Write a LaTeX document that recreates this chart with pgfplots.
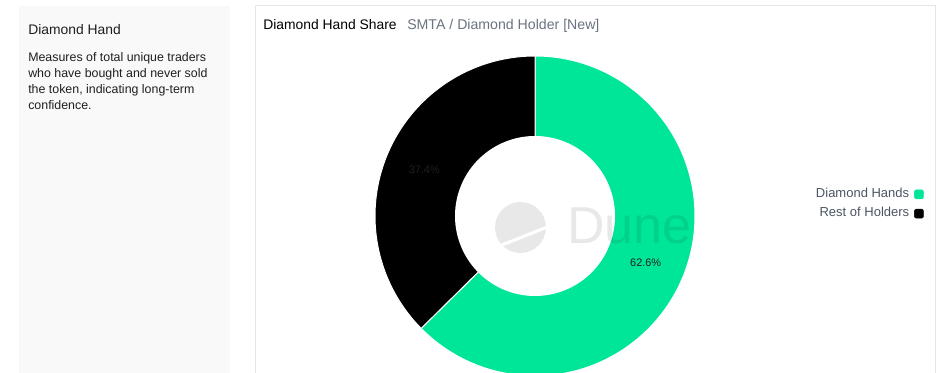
\documentclass[border=0pt]{standalone}
\usepackage{pgfplots}
\pgfplotsset{compat=1.18}
\usepackage{pgfplotstable}
\usepackage{fontspec}
\setmainfont{Liberation Sans}
\definecolor{dgreen}{HTML}{00E699}
\definecolor{panelgray}{HTML}{F9F9F9}
\definecolor{bordergray}{HTML}{E6E6E6}
\definecolor{subgray}{HTML}{6B7280}
\definecolor{leggray}{HTML}{4B5563}
\definecolor{txtdark}{HTML}{1F1F1F}
\pgfplotstableread{
label share
DiamondHands 62.6
RestOfHolders 37.4
}\sharetable
\pgfplotstablegetelem{0}{share}\of\sharetable\let\shareA\pgfplotsretval
\pgfplotstablegetelem{1}{share}\of\sharetable\let\shareB\pgfplotsretval
\pgfmathsetmacro\angA{90-3.6*\shareA}%
\pgfmathsetmacro\angB{90+3.6*\shareB}%
\pgfmathsetmacro\midA{(90+\angA)/2}%
\pgfmathsetmacro\midB{(90+\angB)/2}%
\begin{document}
\begin{tikzpicture}[x=0.75pt,y=0.75pt]
\path[use as bounding box] (0,0) rectangle (946,373);
\clip (0,0) rectangle (946,373);
\fill[white] (0,0) rectangle (946,373);
% left panel
\fill[panelgray] (19,-10) rectangle (230,367);
\node[anchor=base west, inner sep=0, text=txtdark, font=\fontsize{10.4pt}{12pt}\selectfont] at (28,{373-34.3}) {Diamond Hand};
\begin{scope}[every node/.style={anchor=base west, inner sep=0, text=txtdark, font=\fontsize{9.3pt}{12pt}\selectfont}]
\node at (28,{373-61.2}) {Measures of total unique traders};
\node at (28,{373-77.4}) {who have bought and never sold};
\node at (28,{373-93.6}) {the token, indicating long-term};
\node at (28,{373-109.6}) {confidence.};
\end{scope}
% right panel
\draw[bordergray, line width=0.75pt] (255,-10) rectangle (935,367);
\node[anchor=base west, inner sep=0, text=black, font=\fontsize{10.4pt}{12pt}\selectfont] at (263,{373-30}) {Diamond Hand Share};
\node[anchor=base west, inner sep=0, text=subgray, font=\fontsize{10.6pt}{12pt}\selectfont] at (407,{373-30}) {SMTA / Diamond Holder [New]};
\begin{axis}[
  at={(401.25pt,117.75pt)}, anchor=center,
  width=240pt, height=240pt, scale only axis,
  hide axis, clip=false,
  xmin=-1, xmax=1, ymin=-1, ymax=1,
  legend style={at={(axis description cs:1.7156,0.5375)}, anchor=east,
    draw=none, fill=none, inner sep=0pt, row sep=5.5pt, column sep=3.75pt,
    font=\fontsize{9.75pt}{11pt}\selectfont, text=leggray,
    nodes={inner sep=0pt, text height=7pt, text depth=2pt}},
  legend cell align=right,
  legend plot pos=right,
]
\addplot[forget plot, fill=dgreen, draw=white, line width=0.75pt, domain=\angA:90, samples=180, variable=\t]
  ({cos(\t)},{sin(\t)}) -- (axis cs:0,0) -- cycle;
\addplot[forget plot, fill=black, draw=white, line width=0.75pt, domain=90:\angB, samples=120, variable=\t]
  ({cos(\t)},{sin(\t)}) -- (axis cs:0,0) -- cycle;
\addplot[forget plot, fill=white, draw=none, domain=0:360, samples=180, variable=\t]
  ({0.5*cos(\t)},{0.5*sin(\t)}) -- cycle;
\node[text=txtdark, font=\fontsize{8.2pt}{10pt}\selectfont] at (axis cs:{0.75*cos(\midA)},{0.75*sin(\midA)}) {\shareA\%};
\node[text=txtdark, font=\fontsize{8.2pt}{10pt}\selectfont] at (axis cs:{0.75*cos(\midB)},{0.75*sin(\midB)}) {\shareB\%};
\addlegendimage{legend image code/.code={\fill[dgreen,rounded corners=1.5pt] (0pt,-3.375pt) rectangle (6.75pt,3.375pt);}}
\addlegendentry{Diamond Hands}
\addlegendimage{legend image code/.code={\fill[black,rounded corners=1.5pt] (0pt,-3.375pt) rectangle (6.75pt,3.375pt);}}
\addlegendentry{Rest of Holders}
\end{axis}
% Dune watermark
\begin{scope}
\clip (520.5,{373-227.5}) circle (25.5);
\fill[black, opacity=0.09] (520.5,{373-227.5}) circle (25.5);
\draw[white, line width=2.3pt] (488,{373-250.5}) -- (556,{373-223.6});
\end{scope}
\node[anchor=base west, inner sep=0, text=black, text opacity=0.09, font=\fontsize{39pt}{41pt}\selectfont] at (567,{373-244}) {Dune};
\end{tikzpicture}
\end{document}
